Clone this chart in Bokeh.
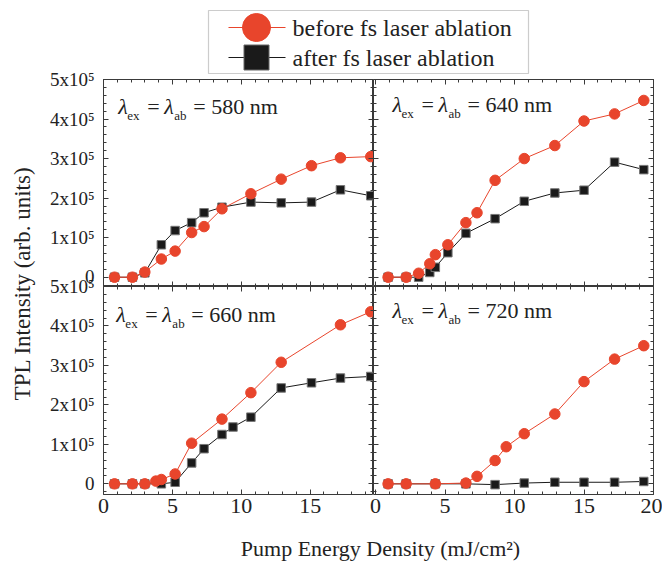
import math

from bokeh.plotting import figure
from bokeh.models import Range1d, FixedTicker, LinearAxis, Label, BoxAnnotation
from bokeh.layouts import row, column
from bokeh.embed import file_html
from bokeh.resources import INLINE

FONT = "Liberation Serif"
RED = "#E8452C"
BLACK = "#1A1A1A"
FRAME = "#3A3A3A"
TEXT = "#222222"

# ---------------- data (TPL intensity, arb. units) ----------------
x580_before = [0.8, 2.1, 3.0, 4.2, 5.2, 6.4, 7.3, 8.6, 10.7, 12.9, 15.1, 17.2, 19.4]
y580_before = [0, 0, 13000, 46000, 66000, 113000, 128000, 173000, 211000, 248000, 282000, 302000, 305000]
x580_after = [0.8, 2.1, 3.0, 4.2, 5.2, 6.4, 7.3, 8.6, 10.7, 12.9, 15.1, 17.2, 19.4]
y580_after = [0, 0, 11000, 82000, 118000, 138000, 163000, 177000, 190000, 188000, 190000, 221000, 206000]

x640_before = [0.9, 2.2, 3.1, 3.9, 4.3, 5.2, 6.5, 7.3, 8.6, 10.7, 12.9, 15.0, 17.2, 19.3]
y640_before = [0, 0, 10000, 34000, 57000, 82000, 138000, 163000, 245000, 300000, 333000, 395000, 413000, 447000]
x640_after = [0.9, 2.2, 3.1, 3.9, 4.3, 5.2, 6.5, 8.6, 10.7, 12.9, 15.0, 17.2, 19.3]
y640_after = [0, 0, 0, 12000, 25000, 62000, 111000, 148000, 192000, 213000, 220000, 291000, 272000]

x660_before = [0.8, 2.1, 3.0, 3.8, 4.2, 5.2, 6.4, 8.6, 10.7, 12.9, 17.2, 19.4]
y660_before = [0, 0, 0, 7000, 11000, 25000, 103000, 164000, 231000, 308000, 403000, 436000]
x660_after = [0.8, 2.1, 3.0, 4.2, 5.2, 6.4, 7.3, 8.6, 9.4, 10.7, 12.9, 15.1, 17.2, 19.4]
y660_after = [0, 0, 0, 0, 4000, 53000, 89000, 125000, 144000, 169000, 243000, 256000, 268000, 272000]

x720_before = [0.9, 2.2, 4.3, 6.5, 7.3, 8.6, 9.4, 10.7, 12.9, 15.0, 17.2, 19.3]
y720_before = [0, 0, 0, 2000, 19000, 59000, 94000, 127000, 177000, 259000, 316000, 350000]
x720_after = [0.9, 2.2, 4.3, 6.5, 8.6, 10.7, 12.9, 15.0, 17.2, 19.3]
y720_after = [0, 0, 0, 0, -2000, 2000, 4000, 4000, 4000, 6000]

wavelengths = ["580", "640", "660", "720"]
series_labels = ["before fs laser ablation", "after fs laser ablation"]

y_ticks = [0, 100000, 200000, 300000, 400000, 500000]
y_tick_labels = ["0", "1x10⁵", "2x10⁵", "3x10⁵", "4x10⁵", "5x10⁵"]
y_minor_ticks = [i * 20000 for i in range(-1, 26)]
x_ticks = [0, 5, 10, 15, 20]
x_tick_labels = ["0", "5", "10", "15", "20"]
x_minor_ticks = list(range(0, 21))

x_title = "Pump Energy Density (mJ/cm²)"
y_title = "TPL Intensity (arb. units)"

# ---------------- layout constants (pixels) ----------------
LEFT_FRAME_W, RIGHT_FRAME_W = 273, 280
TOP_FRAME_H, BOTTOM_FRAME_H = 207, 208
YLAB_W = 46
X_RANGE_LEFT = (0, 19.6)
X_RANGE_RIGHT = (-0.15, 20.0)
Y_RANGE_TOP = (-23500, 500000)
Y_RANGE_BOTTOM = (-27000, 500000)


def base_axis(ticker):
    ax = LinearAxis(ticker=ticker)
    ax.axis_line_color = None
    ax.major_tick_in = 5
    ax.major_tick_out = 0
    ax.minor_tick_in = 3
    ax.minor_tick_out = 0
    ax.major_tick_line_color = FRAME
    ax.minor_tick_line_color = FRAME
    return ax


def labelled_axis(p, side, ticks, minor, labels, font_size, standoff):
    ax = base_axis(FixedTicker(ticks=ticks, minor_ticks=minor))
    ax.major_label_overrides = dict(zip(ticks, labels))
    ax.major_label_text_font = FONT
    ax.major_label_text_font_size = font_size
    ax.major_label_text_color = TEXT
    ax.major_label_standoff = standoff
    p.add_layout(ax, side)


def tick_only_axis(p, side, ticks, minor):
    # inward tick marks without any labels: minor ticks only, drawn twice
    # (short for the minor positions, long for the major positions)
    for positions, length in ((minor, 3), (ticks, 5)):
        ax = base_axis(FixedTicker(ticks=[], minor_ticks=positions))
        ax.minor_tick_in = length
        ax.major_label_standoff = 0
        p.add_layout(ax, side)


def make_panel(xr, yr, width, height, borders, label_left, label_below, margin):
    left, right, top, bottom = borders
    p = figure(width=width, height=height,
               x_range=Range1d(*xr), y_range=Range1d(*yr),
               output_backend="svg", toolbar_location=None,
               x_axis_location=None, y_axis_location=None,
               min_border_left=left, min_border_right=right,
               min_border_top=top, min_border_bottom=bottom,
               border_fill_color=None, background_fill_color="white",
               outline_line_color=FRAME, outline_line_width=1,
               margin=margin)
    p.xgrid.visible = False
    p.ygrid.visible = False
    if label_left:
        labelled_axis(p, "left", y_ticks, y_minor_ticks, y_tick_labels, "19px", 9)
    else:
        tick_only_axis(p, "left", y_ticks, y_minor_ticks)
    tick_only_axis(p, "right", y_ticks, y_minor_ticks)
    tick_only_axis(p, "above", x_ticks, x_minor_ticks)
    if label_below:
        labelled_axis(p, "below", x_ticks, x_minor_ticks, x_tick_labels, "22px", 4)
    else:
        tick_only_axis(p, "below", x_ticks, x_minor_ticks)
    return p


def draw_series(p, xb, yb, xa, ya):
    p.line(xa, ya, line_color=BLACK, line_width=1)
    p.scatter(xa, ya, marker="square", size=8.5, fill_color=BLACK, line_color="#777777", line_width=1)
    p.line(xb, yb, line_color=RED, line_width=1)
    p.scatter(xb, yb, marker="circle", size=10.5, fill_color=RED, line_color=RED)


def add_caption(p, xr, yr, fw, fh, dx, dy, nm):
    # anchor: baseline start of the caption, dx/dy pixels from the frame's top-left corner
    x0 = xr[0] + dx / fw * (xr[1] - xr[0])
    y0 = yr[1] - dy / fh * (yr[1] - yr[0])
    pieces = [
        ("λ", 0, 0, "22px", "italic"),
        ("ex", 9, -9, "13px", "normal"),
        ("=", 29, 0, "22px", "normal"),
        ("λ", 46, 0, "22px", "italic"),
        ("ab", 56, -9, "13px", "normal"),
        ("= " + nm + " nm", 75, 0, "22px", "normal"),
    ]
    for text, xo, yo, size, style in pieces:
        p.add_layout(Label(x=x0, y=y0, x_offset=xo, y_offset=yo, text=text,
                           text_font=FONT, text_font_size=size, text_font_style=style,
                           text_color=TEXT, text_baseline="alphabetic", text_align="left"))


# ---------------- panels ----------------
tl = make_panel(X_RANGE_LEFT, Y_RANGE_TOP, 327, 219, (54, 0, 12, 0), True, False, (-8, 0, 0, 0))
tr = make_panel(X_RANGE_RIGHT, Y_RANGE_TOP, 289, 219, (0, 9, 12, 0), False, False, (-8, 0, 0, 0))
bl = make_panel(X_RANGE_LEFT, Y_RANGE_BOTTOM, 327, 250, (54, 0, 12, 30), True, True, (-12, 0, 0, 0))
br = make_panel(X_RANGE_RIGHT, Y_RANGE_BOTTOM, 299, 250, (10, 9, 12, 30), False, True, (-12, 0, 0, -10))

draw_series(tl, x580_before, y580_before, x580_after, y580_after)
draw_series(tr, x640_before, y640_before, x640_after, y640_after)
draw_series(bl, x660_before, y660_before, x660_after, y660_after)
draw_series(br, x720_before, y720_before, x720_after, y720_after)

add_caption(tl, X_RANGE_LEFT, Y_RANGE_TOP, LEFT_FRAME_W, TOP_FRAME_H, 15, 27, wavelengths[0])
add_caption(tr, X_RANGE_RIGHT, Y_RANGE_TOP, RIGHT_FRAME_W, TOP_FRAME_H, 19, 25, wavelengths[1])
add_caption(bl, X_RANGE_LEFT, Y_RANGE_BOTTOM, LEFT_FRAME_W, BOTTOM_FRAME_H, 13, 28, wavelengths[2])
add_caption(br, X_RANGE_RIGHT, Y_RANGE_BOTTOM, RIGHT_FRAME_W, BOTTOM_FRAME_H, 19, 24, wavelengths[3])


def blank_figure(width, height, yr, margin=None):
    kw = dict(width=width, height=height, x_range=Range1d(0, width), y_range=Range1d(*yr),
              output_backend="svg", toolbar_location=None,
              x_axis_location=None, y_axis_location=None,
              min_border=0, outline_line_color=None, border_fill_color=None,
              background_fill_color=None)
    if margin is not None:
        kw["margin"] = margin
    f = figure(**kw)
    f.xgrid.visible = False
    f.ygrid.visible = False
    return f


# ---------------- legend (pixel coordinates, y downwards) ----------------
leg = blank_figure(662, 75, (75, 0))
leg.add_layout(BoxAnnotation(left=208, right=528, top=10, bottom=73,
                             fill_alpha=0, line_color="#555555", line_width=1.2))
key_rows = [27, 57]
leg.segment(x0=[228], y0=[key_rows[0]], x1=[285], y1=[key_rows[0]], line_color=RED, line_width=1.2)
leg.scatter(x=[256], y=[key_rows[0]], marker="circle", size=28, fill_color=RED, line_color=RED)
leg.segment(x0=[228], y0=[key_rows[1]], x1=[285], y1=[key_rows[1]], line_color=BLACK, line_width=1.2)
leg.scatter(x=[256], y=[key_rows[1]], marker="square", size=25, fill_color=BLACK, line_color="#666666")
for ky, txt in zip(key_rows, series_labels):
    leg.add_layout(Label(x=292, y=ky, text=txt, text_font=FONT, text_font_size="24px",
                         text_color=TEXT, text_baseline="middle", text_align="left"))

# ---------------- axis titles ----------------
ylab = blank_figure(YLAB_W, 457, (0, 457), margin=(-8, 0, 0, 0))
ylab.add_layout(Label(x=22, y=241, text=y_title, angle=math.pi / 2, text_font=FONT,
                      text_font_size="23px", text_color=TEXT,
                      text_align="center", text_baseline="middle"))

xlab = blank_figure(662, 39, (0, 39))
xlab.add_layout(Label(x=380, y=15, text=x_title, text_font=FONT, text_font_size="22px",
                      text_color=TEXT, text_align="center", text_baseline="middle"))

grid = column(row(tl, tr), row(bl, br))
layout = column(leg, row(ylab, grid), xlab)

open("out.html", "w").write(file_html(layout, INLINE, title="TPL intensity"))
